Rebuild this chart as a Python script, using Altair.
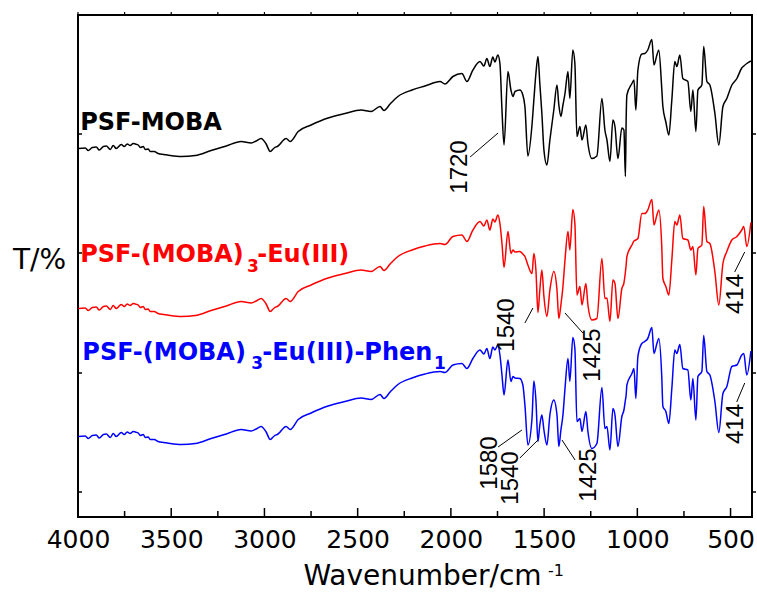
import altair as alt
import pandas as pd

# ---------------- data ----------------
wavenumber = [3998, 3961, 3945, 3923, 3902, 3886, 3864, 3848, 3827, 3811,
              3795, 3768, 3752, 3736, 3720, 3704, 3693, 3677, 3666, 3650,
              3639, 3623, 3613, 3591, 3570, 3538, 3505, 3446, 3371, 3286,
              3205, 3125, 3071, 3044, 3018, 2991, 2969, 2948, 2927, 2884,
              2862, 2819, 2750, 2659, 2568, 2482, 2428, 2380, 2359, 2326,
              2284, 2208, 2139,
              2058, 2032, 1989, 1941, 1914, 1882, 1844, 1823, 1807, 1791,
              1775, 1764, 1748, 1737, 1726, 1715, 1694, 1678, 1667, 1656,
              1630, 1614, 1603, 1587, 1565, 1555, 1544, 1533, 1523, 1512,
              1501, 1485, 1469, 1448, 1431, 1421, 1410, 1399, 1388, 1372,
              1362, 1346, 1335, 1324, 1308, 1297, 1276, 1265, 1244, 1217,
              1190, 1174, 1163, 1147, 1131, 1120, 1104, 1083, 1072, 1064,
              1060, 1056, 1029, 1018, 1008, 997, 976, 960, 944, 922,
              911, 895, 885, 869, 863, 847, 831, 815, 799, 788,
              772, 756, 729, 713, 702, 686, 675, 654, 644, 627,
              611, 584, 563, 541, 520, 493, 466, 440, 429, 413,
              391]

t_psf_moba = [73.7, 73.8, 73.3, 73.9, 74.0, 73.4, 74.1, 74.2, 73.5, 74.3,
              73.7, 74.5, 74.1, 74.6, 74.3, 74.7, 74.6, 74.4, 73.9, 74.1,
              73.5, 73.6, 73.1, 73.1, 72.7, 72.5, 72.3, 72.1, 72.3, 73.3,
              74.2, 75.1, 74.8, 75.2, 75.7, 74.6, 73.1, 73.8, 74.2, 75.7,
              75.1, 77.1, 78.4, 79.8, 80.7, 81.4, 81.1, 82.1, 81.3, 82.6,
              84.1, 85.4, 86.2,
              87.1, 86.6, 88.1, 88.7, 87.1, 89.4, 91.1, 90.2, 91.7, 90.1,
              92.0, 91.0, 92.4, 90.7, 81.4, 74.4, 89.1, 85.4, 84.1, 85.1,
              85.4, 84.4, 82.1, 72.2, 78.4, 83.4, 88.7, 92.1, 86.7, 80.7,
              73.4, 70.4, 75.4, 81.4, 86.4, 82.4, 80.1, 82.4, 84.7, 89.1,
              83.7, 93.4, 90.7, 76.1, 78.1, 75.4, 78.4, 74.7, 71.7, 72.2,
              83.7, 77.4, 75.4, 71.1, 79.4, 78.1, 71.7, 77.8, 77.4, 68.1,
              79.4, 84.4, 86.7, 87.4, 81.4, 89.4, 92.6, 92.7, 93.4, 95.5,
              90.4, 92.4, 93.4, 85.7, 82.1, 79.0, 76.4, 83.4, 91.1, 90.1,
              92.4, 87.7, 87.1, 81.1, 85.4, 77.1, 85.4, 86.4, 94.1, 87.1,
              86.4, 80.7, 74.4, 82.1, 83.7, 86.4, 87.7, 89.8, 90.2, 90.7,
              91.2]

t_moba3_eu = [41.7, 41.8, 41.3, 41.9, 42.0, 41.4, 42.1, 42.2, 41.5, 42.3,
              41.7, 42.5, 42.1, 42.6, 42.3, 42.7, 42.6, 42.4, 41.9, 42.1,
              41.5, 41.6, 41.1, 41.1, 40.7, 40.5, 40.3, 40.1, 40.3, 41.3,
              42.2, 43.1, 42.8, 43.2, 43.7, 42.6, 41.1, 41.8, 42.2, 43.7,
              43.1, 45.1, 46.4, 47.8, 48.7, 49.4, 49.1, 50.1, 49.3, 50.6,
              52.1, 53.4, 54.2,
              54.7, 54.5, 56.1, 56.4, 55.1, 57.4, 59.1, 58.2, 59.4, 57.4,
              59.6, 59.0, 60.4, 58.7, 54.7, 49.9, 57.1, 52.7, 53.4, 53.0,
              53.1, 52.6, 52.1, 50.4, 48.7, 52.7, 49.4, 40.9, 45.4, 49.4,
              44.1, 40.1, 45.4, 49.1, 45.4, 39.7, 42.4, 46.1, 51.4, 57.1,
              53.4, 61.5, 58.7, 44.4, 46.1, 42.4, 46.7, 42.4, 39.4, 39.7,
              51.7, 43.7, 43.8, 39.1, 47.4, 46.7, 39.7, 45.7, 46.8, 49.0,
              50.4, 52.1, 54.4, 55.2, 55.4, 55.7, 60.7, 60.7, 61.4, 63.5,
              58.4, 60.4, 61.4, 54.1, 47.7, 46.1, 44.4, 51.4, 59.1, 58.4,
              60.4, 55.7, 55.4, 53.4, 54.1, 48.4, 53.7, 54.4, 62.1, 55.1,
              54.7, 49.0, 42.4, 50.7, 53.1, 55.4, 56.1, 57.4, 58.1, 54.1,
              58.9]

t_moba3_eu_phen = [16.1, 16.2, 15.7, 16.3, 16.4, 15.8, 16.5, 16.6, 15.9, 16.7,
                   16.1, 16.9, 16.5, 17.0, 16.7, 17.1, 17.0, 16.8, 16.3, 16.5,
                   15.9, 16.0, 15.5, 15.5, 15.1, 14.9, 14.7, 14.5, 14.7, 15.7,
                   16.6, 17.5, 17.2, 17.6, 18.1, 17.0, 15.5, 16.2, 16.6, 18.1,
                   17.5, 19.5, 20.8, 22.2, 23.1, 23.8, 23.5, 24.5, 23.7, 25.0,
                   26.5, 27.8, 28.6,
                   29.1, 28.9, 30.4, 30.7, 29.7, 31.7, 33.4, 32.6, 33.7, 31.7,
                   34.0, 33.4, 34.4, 32.4, 28.4, 24.4, 31.4, 27.1, 28.1, 27.8,
                   27.7, 26.4, 22.4, 14.4, 19.7, 27.2, 23.4, 15.1, 18.4, 20.4,
                   17.4, 14.4, 20.4, 23.4, 20.4, 14.1, 17.4, 20.4, 25.7, 31.7,
                   27.1, 35.9, 33.7, 19.1, 19.7, 17.1, 21.1, 17.1, 13.7, 14.7,
                   25.9, 17.7, 18.1, 13.4, 21.7, 20.4, 14.1, 20.1, 21.4, 23.4,
                   24.4, 26.4, 28.7, 29.7, 23.7, 32.1, 34.7, 35.1, 35.7, 37.9,
                   32.7, 34.7, 35.7, 28.1, 22.1, 21.1, 18.7, 25.7, 33.4, 32.7,
                   34.5, 29.7, 29.4, 23.4, 27.7, 19.4, 28.1, 29.1, 36.3, 29.1,
                   28.4, 23.1, 16.9, 24.7, 26.1, 30.1, 30.4, 32.4, 32.7, 28.4,
                   33.2]

series_names = ["PSF-MOBA", "PSF-(MOBA)3-Eu(III)", "PSF-(MOBA)3-Eu(III)-Phen1"]
series_colors = ["#000000", "#ff0000", "#0000ff"]

x_major = [4000, 3500, 3000, 2500, 2000, 1500, 1000, 500]
x_minor = [3750, 3250, 2750, 2250, 1750, 1250, 750]
y_ticks = [5.0, 28.8, 52.8, 76.6]

# series name labels (pieces, so subscripts can be smaller)
label_text = ["PSF-MOBA", "PSF-(MOBA)", "3", "-Eu(III)",
              "PSF-(MOBA)", "3", "-Eu(III)-Phen", "1"]
label_w = [3988, 3988, 3093, 3039, 3977, 3071, 3012, 2091]
label_v = [77.4, 51.0, 49.0, 51.0, 31.4, 29.6, 31.4, 29.6]
label_color = ["#000000", "#ff0000", "#ff0000", "#ff0000",
               "#0000ff", "#0000ff", "#0000ff", "#0000ff"]
label_size = [24, 24, 17, 24, 24, 17, 24, 17]

# peak annotations
peak_text = ["1720", "1540", "1425", "414", "1580", "1540", "1425", "414"]
peak_w = [1951, 1697, 1236, 470, 1790, 1678, 1260, 473]
peak_v = [70.0, 38.4, 32.4, 44.6, 10.8, 7.8, 8.4, 18.6]
lead_w1 = [1897, 1603, 1388, 478, 1747, 1630, 1404, 467]
lead_v1 = [72.0, 38.8, 40.8, 49.0, 14.0, 11.8, 15.4, 23.0]
lead_w2 = [1747, 1560, 1292, 424, 1619, 1533, 1334, 424]
lead_v2 = [76.8, 41.8, 36.8, 53.0, 17.4, 15.4, 11.4, 26.8]

# ---------------- tables ----------------
rows = []
for name, vals in zip(series_names, [t_psf_moba, t_moba3_eu, t_moba3_eu_phen]):
    for w, v in zip(wavenumber, vals):
        rows.append({"w": w, "v": v, "series": name})
df = pd.DataFrame(rows)

df_labels = pd.DataFrame({"text": label_text, "w": label_w, "v": label_v,
                          "color": label_color, "size": label_size})
df_peaks = pd.DataFrame({"text": peak_text, "w": peak_w, "v": peak_v})
df_leads = pd.DataFrame({"w": lead_w1, "v": lead_v1, "w2": lead_w2, "v2": lead_v2})

W, H = 674, 502
xs = alt.Scale(domain=[385, 4000], reverse=True, nice=False, zero=False)
ys = alt.Scale(domain=[0, 100.4], nice=False, zero=False)
x_axis = alt.Axis(values=x_major, format="d", labelFont="DejaVu Sans",
                  labelFontSize=25, labelColor="black", labelPadding=10,
                  ticks=False, tickSize=0, domain=False, grid=False,
                  labelFlush=False, labelOverlap=False, title=None)


def X(field="w"):
    return alt.X(f"{field}:Q", scale=xs, axis=x_axis, title=None)


def Y(field="v"):
    return alt.Y(f"{field}:Q", scale=ys, axis=None, title=None)


lines = alt.Chart(df).mark_line(strokeWidth=1.5, interpolate="monotone").encode(
    x=X(), y=Y(),
    color=alt.Color("series:N", scale=alt.Scale(domain=series_names, range=series_colors),
                    legend=None),
    order=alt.Order("w:Q"),
)

tick_major = alt.Chart(pd.DataFrame({"w": x_major})).mark_rule(
    color="black", strokeWidth=1.5).encode(x=X(), y=alt.value(H), y2=alt.value(H - 9))
tick_minor = alt.Chart(pd.DataFrame({"w": x_minor})).mark_rule(
    color="black", strokeWidth=1.5).encode(x=X(), y=alt.value(H), y2=alt.value(H - 6))
tick_top = alt.Chart(pd.DataFrame({"w": x_major + x_minor})).mark_rule(
    color="black", strokeWidth=1.2).encode(x=X(), y=alt.value(0), y2=alt.value(-3))
tick_left = alt.Chart(pd.DataFrame({"v": y_ticks})).mark_rule(
    color="black", strokeWidth=1.5).encode(y=Y(), x=alt.value(0), x2=alt.value(4))
tick_right = alt.Chart(pd.DataFrame({"v": y_ticks})).mark_rule(
    color="black", strokeWidth=1.5).encode(y=Y(), x=alt.value(W), x2=alt.value(W + 4))

labels = alt.Chart(df_labels).mark_text(
    align="left", baseline="alphabetic", font="DejaVu Sans", fontWeight="bold").encode(
    x=X(), y=Y(), text="text:N",
    color=alt.Color("color:N", scale=None),
    size=alt.Size("size:Q", scale=None),
)

peaks = alt.Chart(df_peaks).mark_text(
    angle=270, align="center", baseline="middle", font="Liberation Sans",
    fontSize=24, color="black").encode(x=X(), y=Y(), text="text:N")

leads = alt.Chart(df_leads).mark_rule(color="black", strokeWidth=1).encode(
    x=X(), y=Y(), x2="w2:Q", y2="v2:Q")

xtitle = alt.Chart(pd.DataFrame({"t": ["Wavenumber/cm"]})).mark_text(
    align="center", baseline="alphabetic", font="DejaVu Sans", fontSize=28,
    color="black").encode(text="t:N", x=alt.value(344.5), y=alt.value(570))
xtitle_sup = alt.Chart(pd.DataFrame({"t": ["-1"]})).mark_text(
    align="left", baseline="alphabetic", font="DejaVu Sans", fontSize=16,
    color="black").encode(text="t:N", x=alt.value(470), y=alt.value(561))
ytitle = alt.Chart(pd.DataFrame({"t": ["T/%"]})).mark_text(
    align="left", baseline="alphabetic", font="DejaVu Sans", fontSize=28,
    color="black").encode(text="t:N", x=alt.value(-65), y=alt.value(254))

chart = alt.layer(
    lines, tick_major, tick_minor, tick_top, tick_left, tick_right,
    leads, peaks, labels, xtitle, xtitle_sup, ytitle,
).properties(
    width=W, height=H,
    padding={"left": 78, "top": 15, "right": 5, "bottom": 77},
    autosize=alt.AutoSizeParams(type="none"),
    background="white",
).configure_view(stroke="black", strokeWidth=2)

chart.save("out.html", embed_options={"renderer": "svg", "actions": False})
